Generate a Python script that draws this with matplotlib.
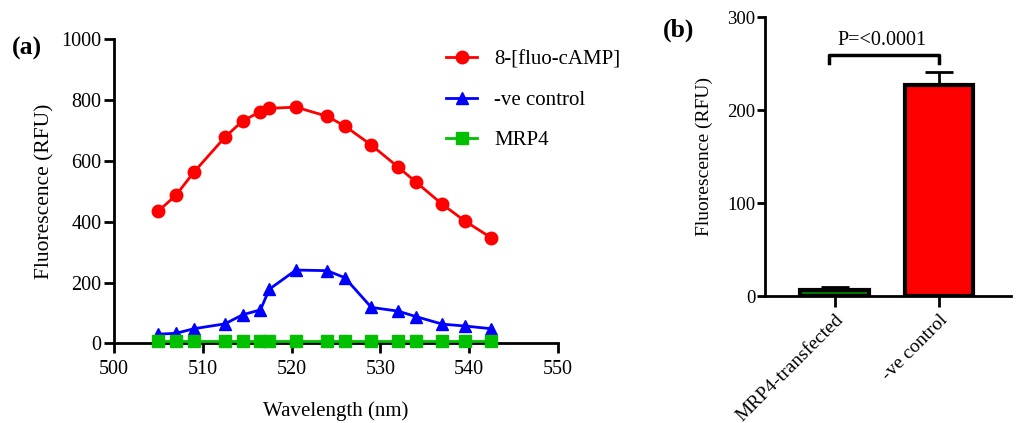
import matplotlib
matplotlib.use("Agg")
import matplotlib.pyplot as plt

plt.rcParams['font.family'] = ['Liberation Serif', 'DejaVu Serif']

# ---- data panel (a) ----
wavelength = [505, 507, 509, 512.5, 514.5, 516.5, 517.5, 520.5, 524, 526, 529, 532, 534, 537, 539.5, 542.5]
fluo_camp = [435, 488, 563, 678, 732, 762, 773, 777, 747, 715, 652, 580, 531, 457, 403, 347]
neg_control = [30, 33, 48, 64, 94, 110, 178, 241, 239, 216, 118, 106, 88, 63, 57, 48]
mrp4 = [6, 6, 6, 6, 6, 6, 6, 6, 6, 6, 6, 6, 6, 6, 6, 6]
series_labels = ['8-[fluo-cAMP]', '-ve control', 'MRP4']

# ---- data panel (b) ----
bar_categories = ['MRP4-transfected', '-ve control']
bar_values = [6.5, 227]
bar_errors = [3.5, 14]
bar_colors = ['#008000', '#ff0000']
p_text = 'P=<0.0001'
bracket_y = 259

fig = plt.figure(figsize=(10.16, 4.23), dpi=100)

# ---------- panel (a) ----------
ax1 = fig.add_axes([0.1122, 0.1884, 0.4368, 0.7186])
ax1.plot(wavelength, fluo_camp, color='#ff0000', marker='o', markersize=9, lw=2, label=series_labels[0], clip_on=False, zorder=3)
ax1.plot(wavelength, neg_control, color='#0000ff', marker='^', markersize=9, lw=2, label=series_labels[1], clip_on=False, zorder=4)
ax1.plot(wavelength, mrp4, color='#00c000', marker='s', markersize=8, lw=2, label=series_labels[2], clip_on=False, zorder=5)
ax1.set_xlim(500, 550)
ax1.set_ylim(0, 1000)
ax1.set_xticks([500, 510, 520, 530, 540, 550])
ax1.set_yticks([0, 200, 400, 600, 800, 1000])
for s in ['top', 'right']:
    ax1.spines[s].set_visible(False)
for s in ['left', 'bottom']:
    ax1.spines[s].set_linewidth(2)
ax1.tick_params(axis='both', direction='out', length=7, width=2, labelsize=14.5, pad=5)
ax1.tick_params(axis='y', pad=2)
ax1.set_xlabel('Wavelength (nm)', fontsize=15, labelpad=16)
ax1.set_ylabel('Fluorescence (RFU)', fontsize=15.5, labelpad=5)
leg = ax1.legend(loc='upper left', bbox_to_anchor=(446 / 1016, 1 - 50 / 423), bbox_transform=fig.transFigure,
                 frameon=False, fontsize=15, borderpad=0, borderaxespad=0,
                 handlelength=1.5, handletextpad=0.8, labelspacing=1.0)
fig.text(12 / 1016, 1 - 48 / 423, '(a)', fontsize=18.5, fontweight='bold', va='center', ha='left')

# ---------- panel (b) ----------
ax2 = fig.add_axes([0.753, 0.300, 0.242, 0.659])
x = [0, 1]
ax2.bar(x, bar_values, width=0.66, color=bar_colors, edgecolor='black', linewidth=3, zorder=3)
ax2.errorbar(x, bar_values, yerr=[[0, 0], bar_errors], fmt='none', ecolor='black', elinewidth=2, capsize=10, capthick=2, zorder=2)
ax2.set_xlim(-0.67, 1.69)
ax2.set_ylim(0, 300)
ax2.set_yticks([0, 100, 200, 300])
ax2.set_xticks(x)
ax2.set_xticklabels(bar_categories, rotation=45, ha='right', rotation_mode='anchor')
for s in ['top', 'right']:
    ax2.spines[s].set_visible(False)
for s in ['left', 'bottom']:
    ax2.spines[s].set_linewidth(2)
ax2.tick_params(axis='x', direction='out', length=8, width=2, labelsize=14, pad=3)
ax2.tick_params(axis='y', direction='out', length=6, width=2, labelsize=13.5, pad=1)
ax2.set_ylabel('Fluorescence (RFU)', fontsize=14, labelpad=10)
ax2.plot([-0.06, -0.06, 1, 1], [bracket_y - 8, bracket_y, bracket_y, bracket_y - 8], color='black', lw=2.5, clip_on=False)
ax2.text(0.45, bracket_y + 6, p_text, ha='center', va='bottom', fontsize=14.5)
fig.text(663 / 1016, 1 - 30 / 423, '(b)', fontsize=18.5, fontweight='bold', va='center', ha='left')

fig.savefig('out.png', dpi=100)
